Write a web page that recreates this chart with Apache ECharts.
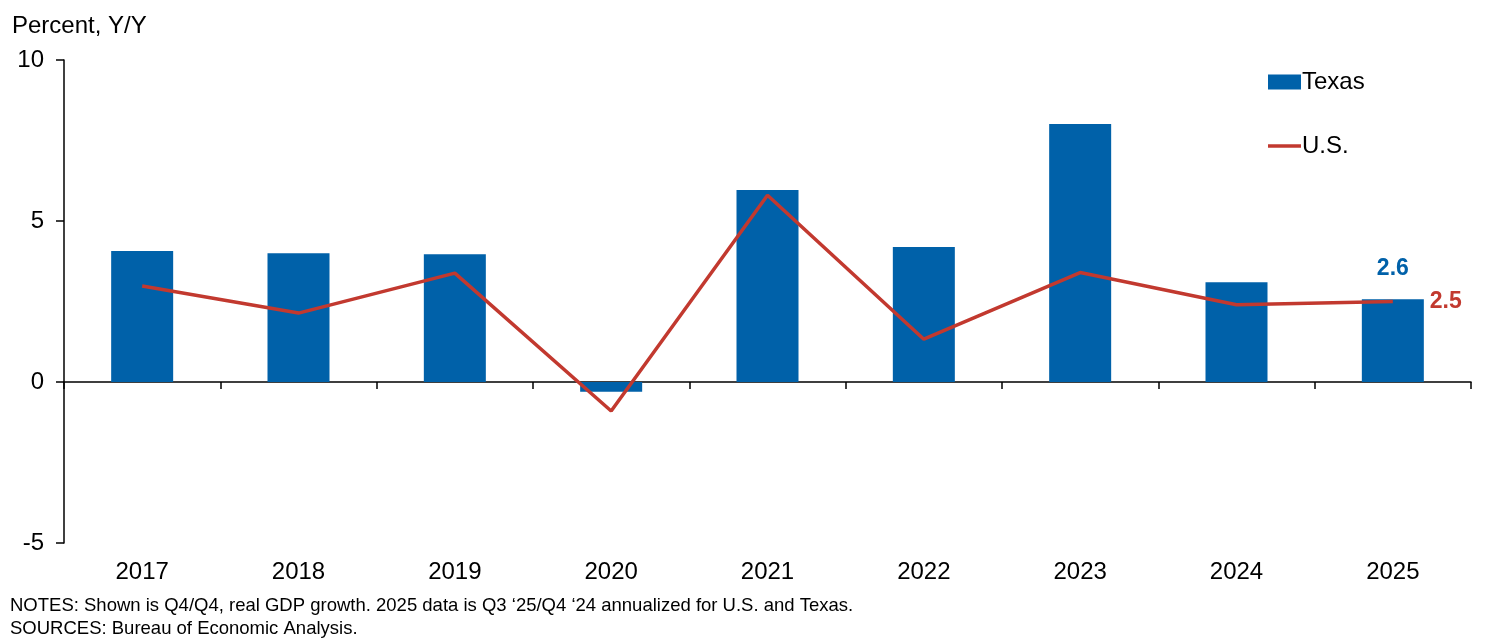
<!DOCTYPE html>
<html>
<head>
<meta charset="utf-8">
<script src="https://cdn.jsdelivr.net/npm/echarts@6/dist/echarts.min.js"></script>
<style>
html,body{margin:0;padding:0;background:#fff;}
#c{width:1489px;height:638px;}
</style>
</head>
<body>
<div id="c"></div>
<script>
const years = ['2017','2018','2019','2020','2021','2022','2023','2024','2025'];
const texas = [4.07, 4.0, 3.97, -0.3, 5.96, 4.19, 8.01, 3.1, 2.57];
const us = [2.98, 2.14, 3.38, -0.9, 5.8, 1.33, 3.4, 2.4, 2.5];
const yTicks = [-5, 0, 5, 10];

const FONT = 'Liberation Sans, Arial, sans-serif';
const BLUE = '#0061A9';
const RED = '#C2392F';
const last = years.length - 1;

const chart = echarts.init(document.getElementById('c'));
chart.setOption({
  animation: false,
  textStyle: {fontFamily: FONT},
  title: [
    {text: 'Percent, Y/Y', left: 7, top: 9, textStyle: {fontFamily: FONT, fontSize: 24, fontWeight: 'normal', color: '#000'}},
    {text: 'NOTES: Shown is Q4/Q4, real GDP growth. 2025 data is Q3 \u201825/Q4 \u201824 annualized for U.S. and Texas.\nSOURCES: Bureau of Economic Analysis.',
     left: 5, top: 589, textStyle: {fontFamily: FONT, fontSize: 18.5, fontWeight: 'normal', color: '#000', lineHeight: 23}}
  ],
  legend: {
    orient: 'vertical', left: 1263, top: 65, itemWidth: 33, itemHeight: 15, itemGap: 40,
    symbolKeepAspect: true,
    textStyle: {fontFamily: FONT, fontSize: 24, color: '#000', padding: [0,0,0,-4]},
    data: [{name: 'Texas', icon: 'rect'}, {name: 'U.S.', icon: 'path://M0,0L33,0L33,3.5L0,3.5Z', itemStyle: {color: RED}}]
  },
  grid: {left: 64, right: 18, top: 60, bottom: 95},
  xAxis: [
    {type: 'category', data: years, position: 'bottom',
     axisLine: {onZero: true, lineStyle: {color: '#000', width: 1.5}},
     axisTick: {show: true, length: 7, lineStyle: {color: '#000', width: 1.5}},
     axisLabel: {show: false}},
    {type: 'category', data: years, position: 'bottom',
     axisLine: {show: false}, axisTick: {show: false},
     axisLabel: {show: true, margin: 17, fontFamily: FONT, fontSize: 24, color: '#000'}}
  ],
  yAxis: {
    type: 'value', min: yTicks[0], max: yTicks[yTicks.length-1], interval: 5,
    axisLine: {show: true, lineStyle: {color: '#000', width: 1.5}},
    axisTick: {show: true, length: 8, lineStyle: {color: '#000', width: 1.5}},
    axisLabel: {margin: 20, fontFamily: FONT, fontSize: 24, color: '#000'},
    splitLine: {show: false}
  },
  series: [
    {name: 'Texas', type: 'bar', barWidth: 62, xAxisIndex: 0,
     itemStyle: {color: BLUE},
     data: texas.map((v, i) => i === last ? {value: v, label: {show: true, position: 'top', distance: 19,
        formatter: v.toFixed(1), fontFamily: FONT, fontSize: 23, fontWeight: 'bold', color: BLUE}} : v)},
    {name: 'U.S.', type: 'line', xAxisIndex: 0, symbol: 'none', showSymbol: false,
     lineStyle: {color: RED, width: 3.5}, itemStyle: {color: RED},
     endLabel: {show: true, distance: 37, formatter: (p) => Number(p.value).toFixed(1),
        fontFamily: FONT, fontSize: 23, fontWeight: 'bold', color: RED},
     data: us}
  ]
});
</script>
</body>
</html>
